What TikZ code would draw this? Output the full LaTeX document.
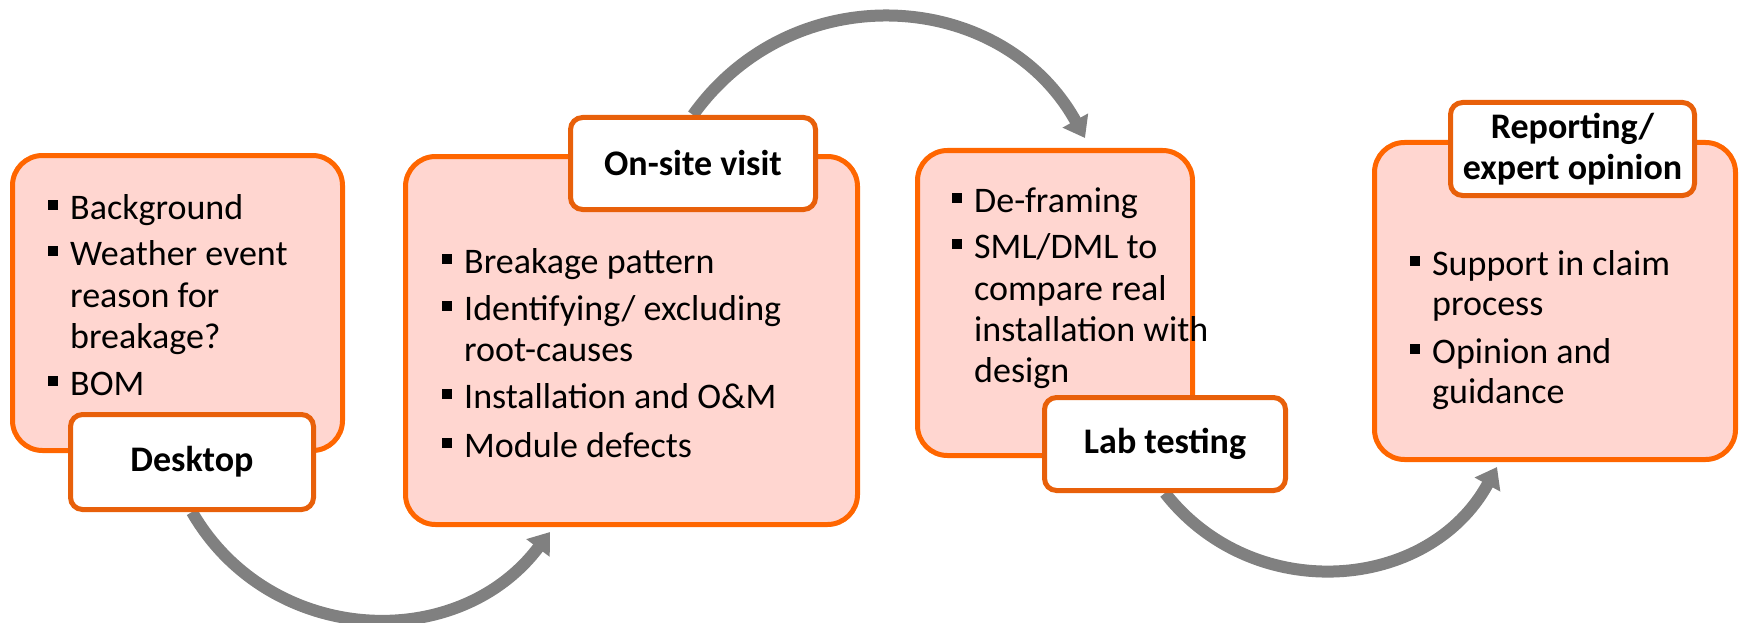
\documentclass[tikz,border=0pt]{standalone}
\usepackage{fontspec}
\setmainfont{Carlito}
\usetikzlibrary{arrows.meta,backgrounds}
\definecolor{boxorange}{HTML}{FF6600}
\definecolor{laborange}{HTML}{E8600A}
\definecolor{boxfill}{HTML}{FFD6D0}
\definecolor{arrowgray}{HTML}{808080}
\newcommand\bsq{\makebox[22pt][l]{\rule[9pt]{10pt}{10pt}}}
\begin{document}
\begin{tikzpicture}[x=1pt,y=-1pt,
  bigbox/.style={draw=boxorange, fill=boxfill, line width=5pt, rounded corners=30pt, inner sep=0pt},
  labbox/.style={draw=laborange, fill=white, line width=5pt, rounded corners=12pt, inner sep=0pt,
    font=\fontsize{36}{41}\selectfont\bfseries, align=center},
  txt/.style={anchor=base west, inner sep=0pt, font=\fontsize{36}{41}\selectfont},
  flow/.style={draw=arrowgray, line width=12pt, -{Triangle[width=28pt,length=20pt]}},
]
\useasboundingbox (0,0) rectangle (1745,623);

% big boxes
\node[bigbox, minimum width=330, minimum height=295] (desk) at (177.5,303) {};
\node[bigbox, minimum width=452, minimum height=368] (onsite) at (631.5,340.5) {};
\node[bigbox, minimum width=275, minimum height=305] (lab) at (1055,303) {};
\node[bigbox, minimum width=361, minimum height=317] (report) at (1555,301) {};

% label boxes
\node[labbox, minimum width=243, minimum height=95] (desklab) at (192,462) {Desktop};
\node[labbox, minimum width=245, minimum height=92] (onlab) at (693,163.5) {On-site visit};
\node[labbox, minimum width=241, minimum height=93] (lablab) at (1165,444) {Lab testing};
\node[labbox, minimum width=244, minimum height=93] (replab) at (1572.5,149) {Reporting/\\expert opinion};

% Desktop text
\node[txt] (d1) at (48,219) {\bsq Background};
\node[txt] (d2) at (48,265) {\bsq Weather event};
\node[txt] (d3) at (70,307) {reason for};
\node[txt] (d4) at (70,348) {breakage?};
\node[txt] (d5) at (48,395) {\bsq BOM};

% On-site text
\node[txt] (o1) at (442,273) {\bsq Breakage pattern};
\node[txt] (o2) at (442,320) {\bsq Identifying/ excluding};
\node[txt] (o3) at (464,361) {root-causes};
\node[txt] (o4) at (442,408) {\bsq Installation and O\&M};
\node[txt] (o5) at (442,457) {\bsq Module defects};

% Lab text
\node[txt] (l1) at (952,212) {\bsq De-framing};
\node[txt] (l2) at (952,258) {\bsq SML/DML to};
\node[txt] (l3) at (974,300) {compare real};
\node[txt] (l4) at (974,341) {installation with};
\node[txt] (l5) at (974,382) {design};

% Reporting text
\node[txt] (r1) at (1410,275) {\bsq Support in claim};
\node[txt] (r2) at (1432,315) {process};
\node[txt] (r3) at (1410,363) {\bsq Opinion and};
\node[txt] (r4) at (1432,403) {guidance};

% arrow tips
\coordinate (t1) at (550,532);
\coordinate (t2) at (1085,138);
\coordinate (t3) at (1497,467);

\begin{scope}[on background layer]
\draw[flow] (desklab.south) to[out=-60,in=-127,looseness=1.1] (t1);
\draw[flow] (onlab.north) to[out=54.5,in=119,looseness=1.12] (t2);
\draw[flow] (lablab.south) to[out=-52,in=-118.6,looseness=1.1] (t3);
\end{scope}
\end{tikzpicture}
\end{document}
